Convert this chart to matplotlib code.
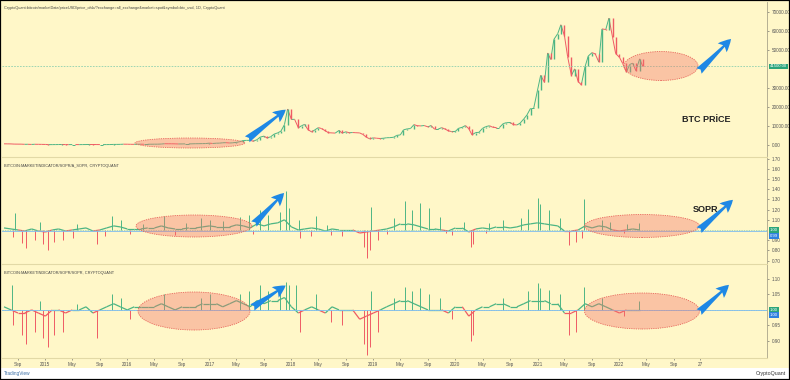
import matplotlib

matplotlib.use("Agg")
import matplotlib.dates as mdates
import matplotlib.pyplot as plt
import matplotlib.transforms as mtransforms
import numpy as np
import pandas as pd
from matplotlib.collections import LineCollection
from matplotlib.patches import Ellipse, FancyArrowPatch, Rectangle

# ---- data --------------------------------------------------------------------
# BTC close, twice a month (1st / 15th), Jul 2014 .. Apr 2022
btc_close = [
    640, 620, 590, 500, 475, 470, 385, 395, 325, 400, 380, 350,
    315, 210, 225, 235, 260, 285, 245, 220, 235, 235, 225, 235,
    260, 290, 280, 260, 230, 230, 237, 255, 325, 330, 360, 450,
    430, 390, 375, 405, 435, 415, 415, 430, 450, 455, 535, 690,
    675, 665, 625, 570, 575, 610, 610, 640, 700, 710, 750, 780,
    1000, 820, 970, 1010, 1190, 1250, 1090, 1180, 1420, 1730, 2400, 2450,
    2500, 2000, 2850, 4200, 4700, 3700, 4400, 5700, 6450, 7300, 10800, 19000,
    13500, 13600, 9100, 10200, 10900, 8200, 6900, 8000, 9200, 8700, 7500, 6500,
    6400, 6300, 7700, 6300, 7000, 6500, 6600, 6500, 6400, 5600, 4100, 3300,
    3800, 3600, 3450, 3600, 3850, 3900, 4100, 5100, 5350, 8000, 8550, 8700,
    10800, 10200, 10100, 10300, 9600, 10300, 8300, 8300, 9200, 8500, 7500, 7100,
    7200, 8800, 9400, 10300, 8600, 5400, 6600, 6700, 8800, 9700, 10200, 9400,
    9200, 9200, 11300, 11800, 11900, 10800, 10600, 11500, 13800, 15900, 19400, 19400,
    29000, 36800, 33100, 48600, 45200, 55800, 58800, 63500, 57700, 46700, 36700, 40200,
    33500, 31800, 41500, 47000, 48800, 48100, 43800, 61300, 61000, 67000, 57000, 48300,
    46300, 43100, 38500, 42500, 43200, 39300, 45500, 41500,
]

# SOPR monthly level, Jul 2014 .. Apr 2022
sopr_base = [
    1.02, 1.01, 1.00, 0.99, 1.01, 0.99,
    0.98, 1.00, 1.01, 0.99, 1.00, 1.01, 1.02, 0.99, 1.00, 1.02, 1.04, 1.03,
    1.01, 1.01, 1.01, 1.02, 1.02, 1.04, 1.02, 1.01, 1.01, 1.02, 1.02, 1.03,
    1.04, 1.03, 1.03, 1.03, 1.05, 1.04, 1.02, 1.06, 1.04, 1.06, 1.07, 1.10,
    1.03, 1.00, 1.01, 1.02, 1.01, 0.99, 1.01, 1.00, 1.00, 1.00, 0.97, 0.98,
    0.99, 1.00, 1.01, 1.03, 1.06, 1.06, 1.05, 1.03, 1.01, 1.01, 1.00, 0.99,
    1.02, 1.02, 0.98, 1.01, 1.02, 1.01, 1.03, 1.03, 1.02, 1.03, 1.05, 1.06,
    1.07, 1.06, 1.05, 1.04, 0.99, 0.99, 1.00, 1.04, 1.02, 1.04, 1.03, 1.00,
    0.99, 1.00, 1.01, 1.00,
]
sopr_spike_dates = [
    "2014-08-20", "2014-12-10", "2015-05-20", "2015-10-25", "2015-12-05", "2016-03-10",
    "2016-06-12", "2016-09-20", "2016-11-25", "2017-01-05", "2017-03-02", "2017-05-18",
    "2017-06-25", "2017-08-15", "2017-09-20", "2017-11-10", "2017-12-08", "2017-12-20",
    "2018-02-05", "2018-04-20", "2018-06-10", "2018-12-20", "2019-04-05", "2019-05-20",
    "2019-06-20", "2019-07-26", "2019-09-05", "2019-10-26", "2020-02-10", "2020-06-01",
    "2020-08-01", "2020-10-20", "2020-11-20", "2021-01-03", "2021-01-10", "2021-02-20",
    "2021-04-10", "2021-07-25", "2021-10-15", "2021-11-20", "2022-02-05", "2022-03-28",
    "2014-08-10", "2014-09-20", "2014-10-05", "2014-11-15", "2014-12-20", "2015-01-14",
    "2015-02-10", "2015-03-20", "2015-05-05", "2015-08-20", "2015-09-25", "2016-01-15",
    "2016-08-02", "2017-07-15", "2018-02-06", "2018-03-30", "2018-06-25", "2018-08-12",
    "2018-11-20", "2018-12-05", "2018-12-15", "2019-01-20", "2019-03-01", "2019-11-20",
    "2019-12-18", "2020-03-12", "2020-03-20", "2020-05-15", "2021-05-19", "2021-06-22",
    "2021-07-20", "2022-01-22",
]
sopr_spike_values = [
    1.17, 1.08, 1.06, 1.14, 1.10, 1.06,
    1.14, 1.07, 1.12, 1.10, 1.09, 1.13,
    1.15, 1.20, 1.15, 1.18, 1.38, 1.22,
    1.10, 1.14, 1.05, 1.23, 1.12, 1.28,
    1.20, 1.26, 1.22, 1.13, 1.08, 1.07,
    1.10, 1.12, 1.21, 1.31, 1.25, 1.20,
    1.12, 1.30, 1.10, 1.08, 1.06, 1.07,
    0.93, 0.87, 0.82, 0.90, 0.86, 0.80,
    0.88, 0.90, 0.92, 0.86, 0.94, 0.96,
    0.95, 0.96, 0.92, 0.94, 0.95, 0.94,
    0.83, 0.725, 0.80, 0.90, 0.96, 0.97,
    0.95, 0.83, 0.86, 0.97, 0.85, 0.88,
    0.92, 0.97,
]

# second SOPR pane, monthly level, Jul 2014 .. Apr 2022
asopr_base = [
    1.01, 1.00, 0.99, 0.99, 1.00, 0.99,
    0.98, 1.00, 1.00, 0.99, 1.00, 1.00, 1.01, 0.99, 1.00, 1.01, 1.02, 1.01,
    1.00, 1.01, 1.01, 1.01, 1.01, 1.02, 1.01, 1.00, 1.01, 1.01, 1.01, 1.02,
    1.02, 1.02, 1.01, 1.02, 1.03, 1.02, 1.01, 1.03, 1.02, 1.03, 1.03, 1.04,
    1.01, 0.99, 1.00, 1.01, 1.00, 0.99, 1.01, 1.00, 1.00, 1.00, 0.97, 0.98,
    0.99, 1.00, 1.01, 1.02, 1.03, 1.03, 1.02, 1.01, 1.00, 1.00, 1.00, 0.99,
    1.01, 1.01, 0.98, 1.00, 1.01, 1.01, 1.02, 1.02, 1.01, 1.01, 1.02, 1.03,
    1.03, 1.03, 1.02, 1.02, 0.99, 0.99, 1.00, 1.02, 1.01, 1.02, 1.01, 1.00,
    0.99, 1.00, 1.00, 1.00,
]
asopr_spike_dates = [
    "2014-08-05", "2014-12-10", "2015-05-20", "2015-10-25", "2015-12-05", "2016-06-12",
    "2016-11-25", "2017-01-05", "2017-05-18", "2017-06-25", "2017-08-15", "2017-09-20",
    "2017-11-10", "2017-12-08", "2017-12-20", "2018-01-20", "2018-04-20", "2018-12-20",
    "2019-04-05", "2019-05-20", "2019-06-20", "2019-07-26", "2019-09-05", "2019-10-26",
    "2020-08-01", "2020-11-20", "2021-01-03", "2021-01-10", "2021-02-20", "2021-04-10",
    "2021-07-25", "2021-10-15", "2022-03-28",
    "2014-08-10", "2014-09-20", "2014-10-05", "2014-11-15", "2014-12-20", "2015-01-14",
    "2015-02-10", "2015-03-20", "2015-08-20", "2016-01-15", "2018-02-06", "2018-06-25",
    "2018-08-12", "2018-11-20", "2018-12-05", "2018-12-15", "2019-01-20", "2019-12-18",
    "2020-03-12", "2020-03-20", "2021-05-19", "2021-06-22", "2022-01-22",
]
asopr_spike_values = [
    1.08, 1.03, 1.02, 1.05, 1.04, 1.05,
    1.04, 1.05, 1.05, 1.06, 1.08, 1.06,
    1.07, 1.09, 1.08, 1.08, 1.05, 1.06,
    1.04, 1.075, 1.06, 1.07, 1.05, 1.04,
    1.04, 1.06, 1.087, 1.07, 1.065, 1.05,
    1.075, 1.04, 1.03,
    0.95, 0.92, 0.89, 0.93, 0.91, 0.88,
    0.92, 0.93, 0.91, 0.97, 0.93, 0.96,
    0.95, 0.89, 0.855, 0.88, 0.93, 0.97,
    0.90, 0.92, 0.92, 0.93, 0.98,
]

# scale labels (the ones under the value boxes are hidden in the original)
price_ticks = [0, 10000, 20000, 30000, 50000, 60000, 70000]
sopr_ticks = [0.70, 0.80, 0.90, 1.10, 1.20, 1.30, 1.40, 1.50, 1.60, 1.70]
asopr_ticks = [0.90, 0.95, 1.05, 1.10]
sopr_line = 0.99
asopr_line = 1.00

title_price = ("CryptoQuant:bitcoin/marketData/priceUSD/price_ohlc/?exchange=all_exchange"
               "&market=spot&symbol=btc_usd, 1D, CryptoQuant")
title_sopr = "BITCOIN:MARKETINDICATOR/SOPR/A_SOPR, CRYPTOQUANT"
title_asopr = "BITCOIN:MARKETINDICATOR/SOPR/SOPR, CRYPTOQUANT"

# ---- style -------------------------------------------------------------------
W, H = 790, 380
BG = "#FFF7C8"
GREEN = "#4DB584"
RED = "#EF5B64"
BLUE = "#1E88E5"
TICK = "#555555"
SEP = "#E2D9A6"

plt.rcParams["font.family"] = ["Liberation Sans", "DejaVu Sans"]


def px_box(x0, y0, x1, y1):
    return [x0 / W, 1 - y1 / H, (x1 - x0) / W, (y1 - y0) / H]


def px(x, y):
    return (x / W, 1 - y / H)


fig = plt.figure(figsize=(W / 100, H / 100), dpi=100)
fig.patch.set_facecolor("white")
fig.add_artist(Rectangle((0, 1 - 368 / H), 1, 368 / H, transform=fig.transFigure,
                         facecolor=BG, edgecolor="none", zorder=-10))

ax1 = fig.add_axes(px_box(2, 1.5, 767, 156))
ax2 = fig.add_axes(px_box(2, 157, 767, 263))
ax3 = fig.add_axes(px_box(2, 264, 767, 358))

xmin = mdates.date2num(pd.Timestamp("2014-06-22"))
xmax = mdates.date2num(pd.Timestamp("2023-10-20"))

for ax in (ax1, ax2, ax3):
    ax.set_facecolor(BG)
    ax.set_xlim(xmin, xmax)
    for s in ("left", "top", "bottom"):
        ax.spines[s].set_visible(False)
    ax.spines["right"].set_color("#A9A48A")
    ax.spines["right"].set_linewidth(0.6)
    ax.yaxis.tick_right()
    ax.tick_params(axis="y", labelsize=3.3, colors=TICK, length=1.5, width=0.4, pad=2)
    ax.tick_params(axis="x", bottom=False, labelbottom=False)
for ax in (ax2, ax3):
    ax.spines["top"].set_visible(True)
    ax.spines["top"].set_color(SEP)
    ax.spines["top"].set_linewidth(0.8)
ax3.spines["bottom"].set_visible(True)
ax3.spines["bottom"].set_color(SEP)
ax3.spines["bottom"].set_linewidth(0.8)

# ---- price pane --------------------------------------------------------------
p = np.array(btc_close, dtype=float)
pdates = pd.date_range("2014-07-01", periods=len(p), freq="SMS")
px_num = mdates.date2num(pdates)
up = p[1:] >= p[:-1]
cols = [GREEN if u else RED for u in up]
segs = np.stack([np.column_stack([px_num[:-1], p[:-1]]),
                 np.column_stack([px_num[1:], p[1:]])], axis=1)
ax1.add_collection(LineCollection(segs, colors=cols, linewidths=0.7))
ax1.vlines(px_num[1:], np.minimum(p[:-1], p[1:]), np.maximum(p[:-1], p[1:]),
           colors=cols, linewidth=1.0)
ax1.axhline(p[-1], color="#8FD0B0", lw=0.6, ls=(0, (2, 1.5)))
ax1.set_ylim(-5790, 75790)
ax1.set_yticks(price_ticks)
ax1.set_yticklabels([f"{v:.2f}" for v in price_ticks])


def draw_indicator(ax, base, spike_dates, spike_values, hline):
    b = np.array(base, dtype=float)
    d = mdates.date2num(pd.date_range("2014-07-01", periods=len(b), freq="MS"))
    seg = np.stack([np.column_stack([d[:-1], b[:-1]]),
                    np.column_stack([d[1:], b[1:]])], axis=1)
    mid = (b[:-1] + b[1:]) / 2
    ax.add_collection(LineCollection(seg, colors=[GREEN if m >= 1 else RED for m in mid],
                                     linewidths=0.9))
    sx = mdates.date2num(pd.to_datetime(spike_dates))
    sv = np.array(spike_values)
    ax.vlines(sx, 1.0, sv, colors=[GREEN if v >= 1 else RED for v in sv], linewidth=0.7)
    ax.axhline(b[-1], color="#8FD0B0", lw=0.5, ls=(0, (2, 1.5)))
    ax.axhline(hline, color="#7DBBEF", lw=0.6)
    return b[-1]


last_sopr = draw_indicator(ax2, sopr_base, sopr_spike_dates, sopr_spike_values, sopr_line)
ax2.set_ylim(0.676, 1.716)
ax2.set_yticks(sopr_ticks)
ax2.set_yticklabels([f"{v:.2f}" for v in sopr_ticks])

last_asopr = draw_indicator(ax3, asopr_base, asopr_spike_dates, asopr_spike_values, asopr_line)
ax3.set_ylim(0.845, 1.148)
ax3.set_yticks(asopr_ticks)
ax3.set_yticklabels([f"{v:.2f}" for v in asopr_ticks])

# ---- x axis ------------------------------------------------------------------
xt_dates = ["2014-09-01"]
xt_labels = ["Sep"]
for y in range(2015, 2023):
    xt_dates += [f"{y}-01-01", f"{y}-05-01", f"{y}-09-01"]
    xt_labels += [str(y), "May", "Sep"]
xt_dates.append("2022-12-27")
xt_labels.append("27")
ax3.set_xticks(mdates.date2num(pd.to_datetime(xt_dates)))
ax3.set_xticklabels(xt_labels)
ax3.tick_params(axis="x", bottom=True, labelbottom=True, labelsize=3.3, colors=TICK,
                length=1.5, width=0.4, pad=1.2)


# ---- last-value boxes on the right scale -------------------------------------
def value_box(ax, value, color, dy=0):
    tr = mtransforms.blended_transform_factory(ax.transAxes, ax.transData)
    tr = mtransforms.offset_copy(tr, fig=fig, y=dy, units="points")
    ax.text(1.004, value, f"{value:.2f}", transform=tr, ha="left", va="center",
            fontsize=3.1, color="white", clip_on=False,
            bbox=dict(boxstyle="square,pad=0.2", fc=color, ec="none"))


value_box(ax1, p[-1], "#2BA57A")
value_box(ax2, last_sopr, "#2BA57A")
value_box(ax2, sopr_line, "#2F80E0", dy=-3.8)
value_box(ax3, last_asopr, "#2BA57A")
value_box(ax3, asopr_line, "#2F80E0", dy=-3.8)

# ---- pane titles -------------------------------------------------------------
for ax, t in ((ax1, title_price), (ax2, title_sopr), (ax3, title_asopr)):
    ax.text(0.003, 0.97 if ax is ax1 else 0.93, t, transform=ax.transAxes,
            fontsize=2.8, color="#444444", va="top", ha="left")

# ---- annotations (ellipses, arrows, labels) ----------------------------------
ellipses = [(190, 143, 110, 10), (661, 66, 74, 29),
            (194, 226, 116, 22), (642, 226, 115, 23),
            (194, 311, 112, 38), (642, 311, 115, 36)]
for cx, cy, w, h in ellipses:
    fig.add_artist(Ellipse(px(cx, cy), w / W, h / H, transform=fig.transFigure,
                           facecolor=(0.95, 0.45, 0.42, 0.38), edgecolor="#E8675C",
                           lw=0.6, ls=(0, (1.5, 1.2)), zorder=5))

arrows = [((245, 141), (288, 108)), ((697, 73), (733, 37)),
          ((252, 226), (286, 191)), ((697, 232), (735, 198)),
          ((250, 309), (288, 284)), ((697, 314), (731, 283))]
for tail, head in arrows:
    fig.add_artist(FancyArrowPatch(px(*tail), px(*head), transform=fig.transFigure,
                                   arrowstyle="fancy,head_length=0.75,head_width=0.75,tail_width=0.45",
                                   mutation_scale=12, color=BLUE, lw=0, zorder=6))

fig.text(682 / W, 1 - 120 / H, "BTC PRİCE", fontsize=6.5, fontweight="bold",
         color="#222222", va="center", ha="left")
fig.text(693 / W, 1 - 209 / H, "SOPR", fontsize=6.5, fontweight="bold",
         color="#222222", va="center", ha="left", zorder=4)

# ---- footer ------------------------------------------------------------------
fig.text(4 / W, 1 - 374 / H, "TradingView", fontsize=3.4, color="#3A6EA5",
         va="center", ha="left")
fig.text(786 / W, 1 - 374 / H, "CryptoQuant", fontsize=3.8, color="#333333",
         va="center", ha="right")
fig.add_artist(Rectangle((0, 0), 1, 1, transform=fig.transFigure, fill=False,
                         edgecolor="black", lw=1.6, zorder=20))

fig.savefig("out.png", dpi=100, facecolor=fig.get_facecolor())
